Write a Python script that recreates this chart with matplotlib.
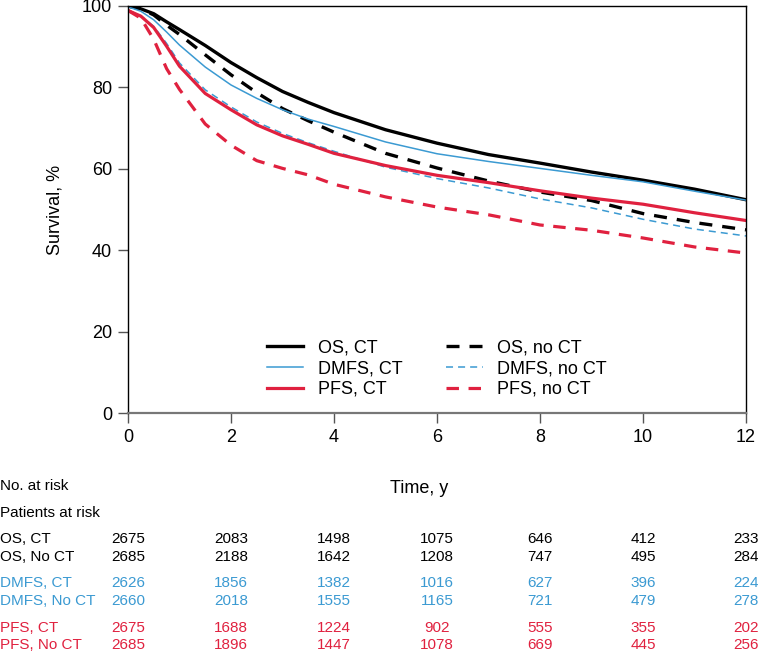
import matplotlib
matplotlib.use("Agg")
import matplotlib.pyplot as plt
import matplotlib.transforms as mtransforms

plt.rcParams['font.family'] = ['Liberation Sans', 'DejaVu Sans']

# time points (years) at which the curves were read
time = [0, 0.25, 0.5, 0.75, 1, 1.5, 2, 2.5, 3, 3.5, 4, 5, 6, 7, 8, 9, 10, 11, 12]

os_ct = [100, 99.3, 98.1, 96.1, 94.2, 90.3, 86.1, 82.4, 79.0, 76.3, 73.8,
         69.6, 66.3, 63.5, 61.4, 59.2, 57.2, 55.0, 52.4]
os_noct = [100, 99.3, 97.8, 95.3, 93.0, 88.0, 83.1, 78.7, 74.8, 71.8, 69.0,
           63.8, 60.2, 57.0, 54.3, 52.2, 49.0, 46.8, 45.0]
dmfs_ct = [99.8, 98.7, 96.6, 93.6, 90.4, 85.0, 80.6, 77.3, 74.5, 72.2, 70.4,
           66.6, 63.7, 61.8, 60.1, 58.4, 56.8, 54.5, 52.3]
dmfs_noct = [99.0, 97.6, 95.0, 90.8, 86.0, 79.4, 75.2, 71.5, 68.7, 66.4, 64.3,
             60.4, 57.6, 55.3, 52.6, 50.4, 47.6, 45.2, 43.5]
pfs_ct = [98.9, 97.5, 94.7, 90.1, 85.2, 78.5, 74.5, 70.8, 68.1, 66.0, 63.8,
          60.8, 58.4, 56.6, 54.6, 52.8, 51.3, 49.2, 47.3]
pfs_noct = [98.9, 97.0, 91.8, 84.6, 79.5, 71.0, 65.8, 62.0, 60.1, 58.5, 56.2,
            53.1, 50.6, 48.7, 46.2, 44.9, 43.0, 40.8, 39.3]

risk_times = [0, 2, 4, 6, 8, 10, 12]
risk_labels = ['OS, CT', 'OS, No CT', 'DMFS, CT', 'DMFS, No CT', 'PFS, CT', 'PFS, No CT']
risk_counts = [
    [2675, 2083, 1498, 1075, 646, 412, 233],
    [2685, 2188, 1642, 1208, 747, 495, 284],
    [2626, 1856, 1382, 1016, 627, 396, 224],
    [2660, 2018, 1555, 1165, 721, 479, 278],
    [2675, 1688, 1224, 902, 555, 355, 202],
    [2685, 1896, 1447, 1078, 669, 445, 256],
]

black = '#000000'
blue = '#3b9ad2'
red = '#e0213f'
row_colors = [black, black, blue, blue, red, red]

W, H = 759, 653
fig = plt.figure(figsize=(W / 100, H / 100), dpi=100)
ax = fig.add_axes([128 / W, 1 - 413 / H, 618 / W, 407 / H])

ax.plot(time, os_ct, color=black, lw=2.4, label='OS, CT')
ax.plot(time, os_noct, color=black, lw=2.4, ls=(0, (3.9, 3.0)), label='OS, no CT')
ax.plot(time, dmfs_ct, color=blue, lw=1.1, label='DMFS, CT')
ax.plot(time, dmfs_noct, color=blue, lw=1.1, ls=(0, (4.6, 3.3)), label='DMFS, no CT')
ax.plot(time, pfs_ct, color=red, lw=2.3, label='PFS, CT')
ax.plot(time, pfs_noct, color=red, lw=2.3, ls=(0, (3.9, 3.0)), label='PFS, no CT')

ax.set_xlim(0, 12)
ax.set_ylim(0, 100)
ax.set_xticks(range(0, 13, 2))
ax.set_yticks(range(0, 101, 20))
ax.tick_params(direction='out', length=7.5, width=1.0, color='#555555',
               labelsize=13, pad=4)
for s in ['left', 'top', 'right']:
    ax.spines[s].set_linewidth(1.0)
ax.spines['bottom'].set_linewidth(1.6)
ax.spines['bottom'].set_color('#777777')

ax.set_ylabel('Survival, %', fontsize=13, labelpad=13)
ax.set_xlabel('Time, y', fontsize=13)
ax.xaxis.set_label_coords(0.471, -0.165)

# legend in the order of the reference (column-wise)
h, l = ax.get_legend_handles_labels()
order = [0, 2, 4, 1, 3, 5]
ax.legend([h[i] for i in order], [l[i] for i in order], ncol=2, frameon=False,
          fontsize=13, handlelength=2.0, handletextpad=0.8, columnspacing=2.45,
          labelspacing=0.2, loc='lower left', bbox_to_anchor=(0.225, 0.037),
          borderaxespad=0, borderpad=0)

# numbers at risk table
fig.text(0, 1 - 486 / H, 'No. at risk', fontsize=11, va='center', ha='left')
fig.text(0, 1 - 513 / H, 'Patients at risk', fontsize=11, va='center', ha='left')
row_y = [539, 557, 583, 601, 628, 645]
trans = mtransforms.blended_transform_factory(ax.transData, fig.transFigure)
for lab, counts, c, yp in zip(risk_labels, risk_counts, row_colors, row_y):
    yf = 1 - yp / H
    fig.text(0, yf, lab, fontsize=11, color=c, va='center', ha='left')
    for t, n in zip(risk_times, counts):
        ax.text(t, yf, str(n), fontsize=11, color=c, va='center', ha='center',
                transform=trans, clip_on=False)

fig.savefig('out.png', dpi=100)
